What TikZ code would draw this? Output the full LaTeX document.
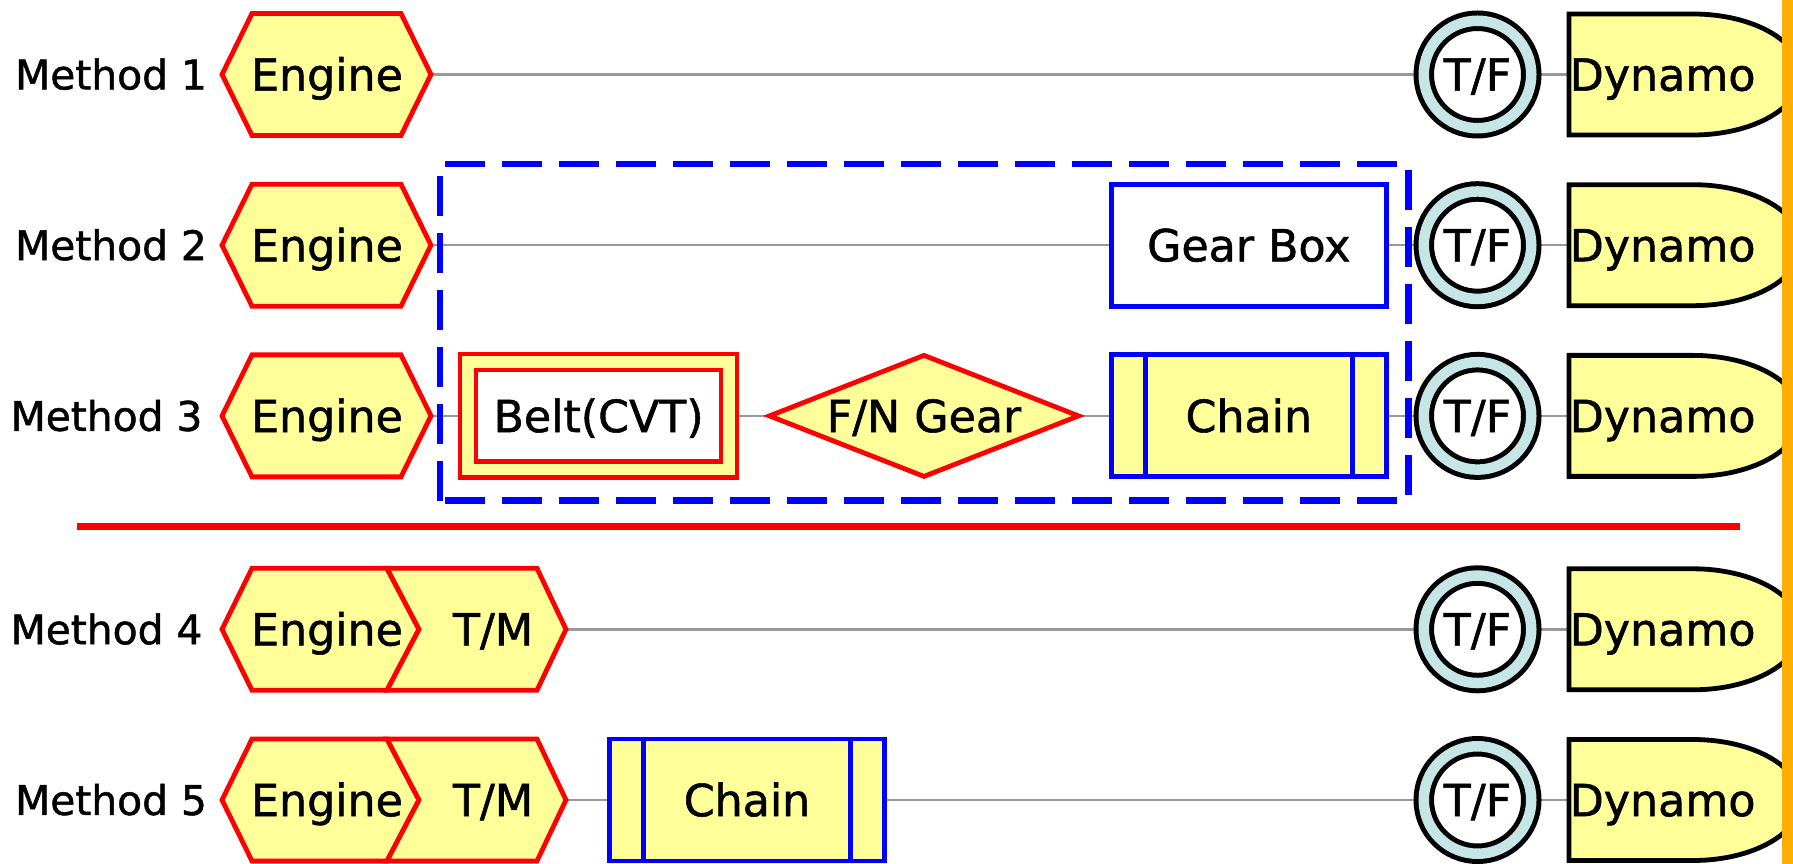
\documentclass[tikz,border=0pt]{standalone}
\usepackage{fontspec}
\setmainfont{DejaVu Sans}[FakeBold=1.2]
\usetikzlibrary{shapes.geometric,backgrounds}

\begin{document}
\begin{tikzpicture}[
    every node/.style={font=\fontsize{12.6}{15}\selectfont, text height=9.2pt, text depth=0pt, inner sep=0pt},
    methodlabel/.style={font=\fontsize{11.6}{14}\selectfont, text height=8.5pt},
    hexstyle/.style={draw=red, fill=fillyellow, line width=0.048cm},
    boxstyle/.style={draw=blue, line width=0.048cm, minimum width=2.75cm, minimum height=1.22cm},
    chainbox/.style={boxstyle, fill=fillyellow, path picture={
        \draw[blue, line width=0.048cm] ([xshift=0.34cm]path picture bounding box.north west) -- ([xshift=0.34cm]path picture bounding box.south west);
        \draw[blue, line width=0.048cm] ([xshift=-0.34cm]path picture bounding box.north east) -- ([xshift=-0.34cm]path picture bounding box.south east);}},
    beltbox/.style={draw=red, fill=white, line width=0.045cm, double=fillyellow, double distance=0.115cm, minimum width=2.61cm, minimum height=1.073cm},
    gearshape/.style={diamond, draw=red, fill=fillyellow, line width=0.048cm, aspect=2.53, minimum width=3.11cm, minimum height=1.23cm},
    tfring/.style={circle, draw=black, fill=white, line width=0.05cm, double=ringblue, double distance=0.105cm, minimum size=1.075cm},
    dynshape/.style={draw=black, fill=fillyellow, line width=0.048cm},
    link/.style={draw=linegray, line width=0.025cm}
  ]

    % colores
    \definecolor{fillyellow}{RGB}{255,255,153}
    \definecolor{ringblue}{RGB}{198,229,230}
    \definecolor{linegray}{RGB}{153,153,153}
    \definecolor{barorange}{RGB}{255,174,0}

    % parámetros (x en cm)
    \def\xTF{14.775}   % centro de T/F
    \def\xDyn{15.69}   % borde izquierdo de Dynamo
    \def\xBox{12.488}  % centro de Gear Box / Chain
    \def\gap{1.707}    % separación entre filas

    \useasboundingbox (0,0) rectangle (17.93,-8.64);

    % --- Método 1 ---
    \begin{scope}[yshift=-0.745cm]
      \node[methodlabel] (m1) at (1.11,0) {Method 1};
      \filldraw[hexstyle] (2.22,0) -- (2.52,0.61) -- (4.01,0.61) -- (4.31,0) -- (4.01,-0.61) -- (2.52,-0.61) -- cycle;
      \node (eng1) at (3.27,0) {Engine};
      \coordinate (eng1e) at (4.31,0);
      \node[tfring] (tf1) at (\xTF,0) {T/F};
      \filldraw[dynshape] (\xDyn,0.605) -- (16.93,0.605) arc[start angle=90, end angle=-90, x radius=1.08, y radius=0.605] -- (\xDyn,-0.605) -- cycle;
      \node[anchor=west] (dyn1) at (\xDyn,0) {Dynamo};
    \end{scope}

    % --- Método 2 ---
    \begin{scope}[yshift=-0.745cm-\gap cm]
      \node[methodlabel] (m2) at (1.11,0) {Method 2};
      \filldraw[hexstyle] (2.22,0) -- (2.52,0.61) -- (4.01,0.61) -- (4.31,0) -- (4.01,-0.61) -- (2.52,-0.61) -- cycle;
      \node (eng2) at (3.27,0) {Engine};
      \coordinate (eng2e) at (4.31,0);
      \node[boxstyle, fill=white] (gb2) at (\xBox,0) {Gear Box};
      \node[tfring] (tf2) at (\xTF,0) {T/F};
      \filldraw[dynshape] (\xDyn,0.605) -- (16.93,0.605) arc[start angle=90, end angle=-90, x radius=1.08, y radius=0.605] -- (\xDyn,-0.605) -- cycle;
      \node[anchor=west] (dyn2) at (\xDyn,0) {Dynamo};
    \end{scope}

    % --- Método 3 ---
    \begin{scope}[yshift=-0.745cm-2*\gap cm]
      \node[methodlabel] (m3) at (1.065,0) {Method 3};
      \filldraw[hexstyle] (2.22,0) -- (2.52,0.61) -- (4.01,0.61) -- (4.31,0) -- (4.01,-0.61) -- (2.52,-0.61) -- cycle;
      \node (eng3) at (3.27,0) {Engine};
      \coordinate (eng3e) at (4.31,0);
      \node[beltbox] (belt3) at (5.986,0) {Belt(CVT)};
      \node[gearshape] (fn3) at (9.24,0) {F/N Gear};
      \node[chainbox] (ch3) at (\xBox,0) {Chain};
      \node[tfring] (tf3) at (\xTF,0) {T/F};
      \filldraw[dynshape] (\xDyn,0.605) -- (16.93,0.605) arc[start angle=90, end angle=-90, x radius=1.08, y radius=0.605] -- (\xDyn,-0.605) -- cycle;
      \node[anchor=west] (dyn3) at (\xDyn,0) {Dynamo};
    \end{scope}

    % caja punteada (métodos 2 y 3)
    \draw[blue, line width=0.065cm, dash pattern=on 0.40cm off 0.17cm] (4.40,-5.007) rectangle (14.083,-1.64);

    % línea roja de separación
    \draw[red, line width=0.07cm] (0.765,-5.265) -- (17.40,-5.265);

    % --- Método 4 ---
    \begin{scope}[yshift=-6.293cm]
      \node[methodlabel] (m4) at (1.065,0) {Method 4};
      \filldraw[hexstyle] (2.22,0) -- (2.52,0.61) -- (3.87,0.61) -- (4.19,0) -- (3.87,-0.61) -- (2.52,-0.61) -- cycle;
      \filldraw[hexstyle] (3.87,0.61) -- (5.37,0.61) -- (5.66,0) -- (5.37,-0.61) -- (3.87,-0.61) -- (4.19,0) -- cycle;
      \node (eng4) at (3.27,0) {Engine};
      \node (tm4) at (4.93,0) {T/M};
      \coordinate (tm4e) at (5.66,0);
      \node[tfring] (tf4) at (\xTF,0) {T/F};
      \filldraw[dynshape] (\xDyn,0.605) -- (16.93,0.605) arc[start angle=90, end angle=-90, x radius=1.08, y radius=0.605] -- (\xDyn,-0.605) -- cycle;
      \node[anchor=west] (dyn4) at (\xDyn,0) {Dynamo};
    \end{scope}

    % --- Método 5 ---
    \begin{scope}[yshift=-6.293cm-\gap cm]
      \node[methodlabel] (m5) at (1.11,0) {Method 5};
      \filldraw[hexstyle] (2.22,0) -- (2.52,0.61) -- (3.87,0.61) -- (4.19,0) -- (3.87,-0.61) -- (2.52,-0.61) -- cycle;
      \filldraw[hexstyle] (3.87,0.61) -- (5.37,0.61) -- (5.66,0) -- (5.37,-0.61) -- (3.87,-0.61) -- (4.19,0) -- cycle;
      \node (eng5) at (3.27,0) {Engine};
      \node (tm5) at (4.93,0) {T/M};
      \coordinate (tm5e) at (5.66,0);
      \node[chainbox] (ch5) at (7.47,0) {Chain};
      \node[tfring] (tf5) at (\xTF,0) {T/F};
      \filldraw[dynshape] (\xDyn,0.605) -- (16.93,0.605) arc[start angle=90, end angle=-90, x radius=1.08, y radius=0.605] -- (\xDyn,-0.605) -- cycle;
      \node[anchor=west] (dyn5) at (\xDyn,0) {Dynamo};
    \end{scope}

    % conectores (detrás de las figuras)
    \begin{scope}[on background layer]
      \draw[link] (eng1e) -- (tf1) -- (dyn1.west);
      \draw[link] (eng2e) -- (gb2) -- (tf2) -- (dyn2.west);
      \draw[link] (eng3e) -- (belt3) -- (fn3) -- (ch3) -- (tf3) -- (dyn3.west);
      \draw[link] (tm4e) -- (tf4) -- (dyn4.west);
      \draw[link] (tm5e) -- (ch5) -- (tf5) -- (dyn5.west);
    \end{scope}

    % barra naranja del borde derecho
    \fill[barorange] (17.82,0) rectangle (17.93,-8.64);
\end{tikzpicture}
\end{document}
